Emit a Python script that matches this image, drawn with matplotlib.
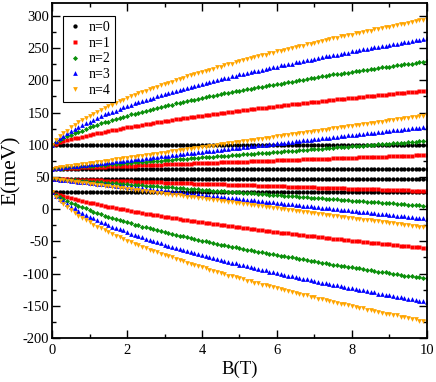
import matplotlib
matplotlib.use('Agg')
import matplotlib.pyplot as plt
import numpy as np
from matplotlib.ticker import MultipleLocator

plt.rcParams['font.family'] = ['Liberation Serif', 'DejaVu Serif']
plt.rcParams['axes.unicode_minus'] = False

# magnetic field grid (T), 0.1 T steps
B = np.linspace(0, 10, 101)

# n=0 levels stay flat (meV)
n0_levels = [100, 63, 47, 26]

# n=1
n1_top = [100.0, 101.8, 103.5, 105.2, 106.8, 108.3, 109.8, 111.2, 112.6, 113.9,
          115.2, 116.5, 117.7, 118.9, 120.1, 121.3, 122.4, 123.5, 124.6, 125.7,
          126.8, 127.8, 128.8, 129.8, 130.8, 131.8, 132.8, 133.7, 134.7, 135.6,
          136.5, 137.4, 138.3, 139.2, 140.0, 140.9, 141.7, 142.6, 143.4, 144.2,
          145.0, 145.8, 146.6, 147.4, 148.2, 149.0, 149.7, 150.5, 151.2, 152.0,
          152.7, 153.5, 154.2, 154.9, 155.6, 156.3, 157.0, 157.7, 158.4, 159.1,
          159.8, 160.5, 161.2, 161.8, 162.5, 163.2, 163.8, 164.5, 165.1, 165.8,
          166.4, 167.0, 167.7, 168.3, 168.9, 169.5, 170.2, 170.8, 171.4, 172.0,
          172.6, 173.2, 173.8, 174.4, 175.0, 175.6, 176.1, 176.7, 177.3, 177.9,
          178.4, 179.0, 179.6, 180.1, 180.7, 181.2, 181.8, 182.4, 182.9, 183.5,
          184.0]
n1_up = [63.0, 63.2, 63.4, 63.6, 63.8, 64.1, 64.3, 64.5, 64.7, 64.9,
         65.1, 65.3, 65.5, 65.7, 65.9, 66.2, 66.4, 66.6, 66.8, 67.0,
         67.2, 67.4, 67.6, 67.8, 68.0, 68.3, 68.5, 68.7, 68.9, 69.1,
         69.3, 69.5, 69.7, 69.9, 70.1, 70.4, 70.6, 70.8, 71.0, 71.2,
         71.4, 71.6, 71.8, 72.0, 72.2, 72.5, 72.7, 72.9, 73.1, 73.3,
         73.5, 73.7, 73.9, 74.1, 74.3, 74.6, 74.8, 75.0, 75.2, 75.4,
         75.6, 75.8, 76.0, 76.2, 76.4, 76.7, 76.9, 77.1, 77.3, 77.5,
         77.7, 77.9, 78.1, 78.3, 78.5, 78.8, 79.0, 79.2, 79.4, 79.6,
         79.8, 80.0, 80.2, 80.4, 80.6, 80.9, 81.1, 81.3, 81.5, 81.7,
         81.9, 82.1, 82.3, 82.5, 82.7, 83.0, 83.2, 83.4, 83.6, 83.8,
         84.0]
n1_dn = [47.0, 46.8, 46.6, 46.4, 46.2, 46.0, 45.9, 45.7, 45.5, 45.3,
         45.1, 44.9, 44.7, 44.5, 44.3, 44.2, 44.0, 43.8, 43.6, 43.4,
         43.2, 43.0, 42.8, 42.6, 42.4, 42.3, 42.1, 41.9, 41.7, 41.5,
         41.3, 41.1, 40.9, 40.7, 40.5, 40.4, 40.2, 40.0, 39.8, 39.6,
         39.4, 39.2, 39.0, 38.8, 38.6, 38.5, 38.3, 38.1, 37.9, 37.7,
         37.5, 37.3, 37.1, 36.9, 36.7, 36.6, 36.4, 36.2, 36.0, 35.8,
         35.6, 35.4, 35.2, 35.0, 34.8, 34.7, 34.5, 34.3, 34.1, 33.9,
         33.7, 33.5, 33.3, 33.1, 32.9, 32.8, 32.6, 32.4, 32.2, 32.0,
         31.8, 31.6, 31.4, 31.2, 31.0, 30.9, 30.7, 30.5, 30.3, 30.1,
         29.9, 29.7, 29.5, 29.3, 29.1, 29.0, 28.8, 28.6, 28.4, 28.2,
         28.0]
n1_bot = [26.0, 24.1, 22.4, 20.7, 19.0, 17.5, 16.0, 14.5, 13.1, 11.7,
          10.3, 9.0, 7.7, 6.5, 5.3, 4.1, 2.9, 1.8, 0.6, -0.5,
          -1.6, -2.6, -3.7, -4.7, -5.8, -6.8, -7.7, -8.7, -9.7, -10.6,
          -11.6, -12.5, -13.4, -14.3, -15.2, -16.1, -17.0, -17.8, -18.7, -19.5,
          -20.4, -21.2, -22.0, -22.8, -23.6, -24.4, -25.2, -26.0, -26.8, -27.6,
          -28.3, -29.1, -29.8, -30.6, -31.3, -32.0, -32.8, -33.5, -34.2, -34.9,
          -35.6, -36.3, -37.0, -37.7, -38.4, -39.1, -39.7, -40.4, -41.1, -41.7,
          -42.4, -43.0, -43.7, -44.3, -45.0, -45.6, -46.3, -46.9, -47.5, -48.1,
          -48.8, -49.4, -50.0, -50.6, -51.2, -51.8, -52.4, -53.0, -53.6, -54.2,
          -54.8, -55.4, -56.0, -56.5, -57.1, -57.7, -58.3, -58.8, -59.4, -60.0,
          -60.5]

# n=2
n2_top = [100, 104, 107, 110, 113, 115, 118, 120, 122, 125,
          127, 129, 131, 133, 135, 136, 138, 140, 142, 143,
          145, 147, 148, 150, 151, 153, 154, 156, 157, 158,
          160, 161, 162, 164, 165, 166, 168, 169, 170, 171,
          173, 174, 175, 176, 177, 178, 180, 181, 182, 183,
          184, 185, 186, 187, 188, 189, 190, 191, 192, 193,
          194, 195, 196, 197, 198, 199, 200, 201, 202, 203,
          204, 205, 206, 207, 208, 209, 209, 210, 211, 212,
          213, 214, 215, 216, 216, 217, 218, 219, 220, 221,
          221, 222, 223, 224, 225, 226, 226, 227, 228, 229,
          230]
n2_up = [63.0, 63.4, 63.9, 64.3, 64.7, 65.2, 65.6, 66.0, 66.4, 66.9,
         67.3, 67.7, 68.2, 68.6, 69.0, 69.5, 69.9, 70.3, 70.7, 71.2,
         71.6, 72.0, 72.5, 72.9, 73.3, 73.8, 74.2, 74.6, 75.0, 75.5,
         75.9, 76.3, 76.8, 77.2, 77.6, 78.1, 78.5, 78.9, 79.3, 79.8,
         80.2, 80.6, 81.1, 81.5, 81.9, 82.4, 82.8, 83.2, 83.6, 84.1,
         84.5, 84.9, 85.4, 85.8, 86.2, 86.7, 87.1, 87.5, 87.9, 88.4,
         88.8, 89.2, 89.7, 90.1, 90.5, 91.0, 91.4, 91.8, 92.2, 92.7,
         93.1, 93.5, 94.0, 94.4, 94.8, 95.3, 95.7, 96.1, 96.5, 97.0,
         97.4, 97.8, 98.3, 98.7, 99.1, 99.6, 100.0, 100.4, 100.8, 101.3,
         101.7, 102.1, 102.6, 103.0, 103.4, 103.9, 104.3, 104.7, 105.1, 105.6,
         106.0]
n2_dn = [47.0, 46.6, 46.2, 45.7, 45.3, 44.9, 44.5, 44.1, 43.6, 43.2,
         42.8, 42.4, 42.0, 41.5, 41.1, 40.7, 40.3, 39.9, 39.4, 39.0,
         38.6, 38.2, 37.8, 37.3, 36.9, 36.5, 36.1, 35.7, 35.2, 34.8,
         34.4, 34.0, 33.6, 33.1, 32.7, 32.3, 31.9, 31.5, 31.0, 30.6,
         30.2, 29.8, 29.4, 28.9, 28.5, 28.1, 27.7, 27.3, 26.8, 26.4,
         26.0, 25.6, 25.2, 24.7, 24.3, 23.9, 23.5, 23.1, 22.6, 22.2,
         21.8, 21.4, 21.0, 20.5, 20.1, 19.7, 19.3, 18.9, 18.4, 18.0,
         17.6, 17.2, 16.8, 16.3, 15.9, 15.5, 15.1, 14.7, 14.2, 13.8,
         13.4, 13.0, 12.6, 12.1, 11.7, 11.3, 10.9, 10.5, 10.0, 9.6,
         9.2, 8.8, 8.4, 7.9, 7.5, 7.1, 6.7, 6.3, 5.8, 5.4,
         5.0]
n2_bot = [26, 22, 19, 16, 13, 10, 8, 5, 3, 1,
          -2, -4, -6, -8, -10, -12, -13, -15, -17, -19,
          -20, -22, -24, -25, -27, -28, -30, -31, -33, -34,
          -36, -37, -38, -40, -41, -42, -44, -45, -46, -48,
          -49, -50, -51, -52, -54, -55, -56, -57, -58, -59,
          -61, -62, -63, -64, -65, -66, -67, -68, -69, -70,
          -71, -72, -73, -74, -75, -76, -77, -78, -79, -80,
          -81, -82, -83, -84, -85, -86, -87, -88, -89, -90,
          -90, -91, -92, -93, -94, -95, -96, -97, -97, -98,
          -99, -100, -101, -102, -103, -103, -104, -105, -106, -107,
          -107]

# n=3
n3_top = [100, 105, 110, 114, 118, 121, 125, 128, 131, 134,
          136, 139, 142, 144, 147, 149, 151, 153, 156, 158,
          160, 162, 164, 166, 168, 170, 171, 173, 175, 177,
          178, 180, 182, 183, 185, 187, 188, 190, 191, 193,
          194, 196, 197, 199, 200, 202, 203, 204, 206, 207,
          209, 210, 211, 213, 214, 215, 216, 218, 219, 220,
          221, 223, 224, 225, 226, 228, 229, 230, 231, 232,
          233, 235, 236, 237, 238, 239, 240, 241, 242, 243,
          245, 246, 247, 248, 249, 250, 251, 252, 253, 254,
          255, 256, 257, 258, 259, 260, 261, 262, 263, 264,
          265]
n3_up = [63.0, 63.7, 64.3, 65.0, 65.6, 66.3, 66.9, 67.6, 68.2, 68.9,
         69.5, 70.2, 70.8, 71.5, 72.1, 72.8, 73.4, 74.1, 74.7, 75.4,
         76.0, 76.7, 77.3, 78.0, 78.6, 79.3, 79.9, 80.6, 81.2, 81.9,
         82.5, 83.2, 83.8, 84.5, 85.1, 85.8, 86.4, 87.1, 87.7, 88.4,
         89.0, 89.7, 90.3, 91.0, 91.6, 92.3, 92.9, 93.6, 94.2, 94.9,
         95.5, 96.2, 96.8, 97.5, 98.1, 98.8, 99.4, 100.1, 100.7, 101.4,
         102.0, 102.7, 103.3, 104.0, 104.6, 105.3, 105.9, 106.6, 107.2, 107.9,
         108.5, 109.2, 109.8, 110.5, 111.1, 111.8, 112.4, 113.1, 113.7, 114.4,
         115.0, 115.7, 116.3, 117.0, 117.6, 118.3, 118.9, 119.6, 120.2, 120.9,
         121.5, 122.2, 122.8, 123.5, 124.1, 124.8, 125.4, 126.1, 126.7, 127.4,
         128.0]
n3_dn = [47.0, 46.4, 45.8, 45.1, 44.5, 43.9, 43.3, 42.7, 42.0, 41.4,
         40.8, 40.2, 39.6, 38.9, 38.3, 37.7, 37.1, 36.5, 35.8, 35.2,
         34.6, 34.0, 33.4, 32.7, 32.1, 31.5, 30.9, 30.3, 29.6, 29.0,
         28.4, 27.8, 27.2, 26.5, 25.9, 25.3, 24.7, 24.1, 23.4, 22.8,
         22.2, 21.6, 21.0, 20.3, 19.7, 19.1, 18.5, 17.9, 17.2, 16.6,
         16.0, 15.4, 14.8, 14.1, 13.5, 12.9, 12.3, 11.7, 11.0, 10.4,
         9.8, 9.2, 8.6, 7.9, 7.3, 6.7, 6.1, 5.5, 4.8, 4.2,
         3.6, 3.0, 2.4, 1.7, 1.1, 0.5, -0.1, -0.7, -1.4, -2.0,
         -2.6, -3.2, -3.8, -4.5, -5.1, -5.7, -6.3, -6.9, -7.6, -8.2,
         -8.8, -9.4, -10.0, -10.7, -11.3, -11.9, -12.5, -13.1, -13.8, -14.4,
         -15.0]
n3_bot = [26, 21, 16, 12, 8, 4, 1, -3, -6, -9,
          -12, -14, -17, -20, -22, -24, -27, -29, -31, -33,
          -36, -38, -40, -42, -44, -46, -48, -49, -51, -53,
          -55, -57, -58, -60, -62, -63, -65, -67, -68, -70,
          -71, -73, -74, -76, -77, -79, -80, -82, -83, -84,
          -86, -87, -89, -90, -91, -93, -94, -95, -97, -98,
          -99, -100, -102, -103, -104, -105, -107, -108, -109, -110,
          -111, -113, -114, -115, -116, -117, -118, -120, -121, -122,
          -123, -124, -125, -126, -127, -128, -129, -131, -132, -133,
          -134, -135, -136, -137, -138, -139, -140, -141, -142, -143,
          -144]

# n=4
n4_top = [100, 107, 113, 118, 122, 127, 131, 135, 138, 142,
          145, 148, 151, 154, 157, 160, 162, 165, 168, 170,
          173, 175, 177, 180, 182, 184, 186, 188, 190, 192,
          194, 196, 198, 200, 202, 204, 206, 208, 209, 211,
          213, 215, 216, 218, 220, 221, 223, 225, 226, 228,
          230, 231, 233, 234, 236, 237, 239, 240, 242, 243,
          245, 246, 247, 249, 250, 252, 253, 254, 256, 257,
          258, 260, 261, 262, 264, 265, 266, 268, 269, 270,
          271, 273, 274, 275, 276, 277, 279, 280, 281, 282,
          283, 285, 286, 287, 288, 289, 290, 292, 293, 294,
          295]
n4_up = [63.0, 63.8, 64.7, 65.5, 66.3, 67.2, 68.0, 68.8, 69.6, 70.5,
         71.3, 72.1, 73.0, 73.8, 74.6, 75.5, 76.3, 77.1, 77.9, 78.8,
         79.6, 80.4, 81.3, 82.1, 82.9, 83.8, 84.6, 85.4, 86.2, 87.1,
         87.9, 88.7, 89.6, 90.4, 91.2, 92.1, 92.9, 93.7, 94.5, 95.4,
         96.2, 97.0, 97.9, 98.7, 99.5, 100.4, 101.2, 102.0, 102.8, 103.7,
         104.5, 105.3, 106.2, 107.0, 107.8, 108.7, 109.5, 110.3, 111.1, 112.0,
         112.8, 113.6, 114.5, 115.3, 116.1, 117.0, 117.8, 118.6, 119.4, 120.3,
         121.1, 121.9, 122.8, 123.6, 124.4, 125.3, 126.1, 126.9, 127.7, 128.6,
         129.4, 130.2, 131.1, 131.9, 132.7, 133.6, 134.4, 135.2, 136.0, 136.9,
         137.7, 138.5, 139.4, 140.2, 141.0, 141.9, 142.7, 143.5, 144.3, 145.2,
         146.0]
n4_dn = [47.0, 46.2, 45.5, 44.7, 44.0, 43.2, 42.4, 41.7, 40.9, 40.2,
         39.4, 38.6, 37.9, 37.1, 36.4, 35.6, 34.8, 34.1, 33.3, 32.6,
         31.8, 31.0, 30.3, 29.5, 28.8, 28.0, 27.2, 26.5, 25.7, 25.0,
         24.2, 23.4, 22.7, 21.9, 21.2, 20.4, 19.6, 18.9, 18.1, 17.4,
         16.6, 15.8, 15.1, 14.3, 13.6, 12.8, 12.0, 11.3, 10.5, 9.8,
         9.0, 8.2, 7.5, 6.7, 6.0, 5.2, 4.4, 3.7, 2.9, 2.2,
         1.4, 0.6, -0.1, -0.9, -1.6, -2.4, -3.2, -3.9, -4.7, -5.4,
         -6.2, -7.0, -7.7, -8.5, -9.2, -10.0, -10.8, -11.5, -12.3, -13.0,
         -13.8, -14.6, -15.3, -16.1, -16.8, -17.6, -18.4, -19.1, -19.9, -20.6,
         -21.4, -22.2, -22.9, -23.7, -24.4, -25.2, -26.0, -26.7, -27.5, -28.2,
         -29.0]
n4_bot = [26, 19, 13, 8, 3, -2, -6, -10, -13, -17,
          -20, -24, -27, -30, -33, -36, -38, -41, -44, -46,
          -49, -51, -54, -56, -58, -61, -63, -65, -67, -69,
          -71, -73, -75, -77, -79, -81, -83, -85, -87, -89,
          -90, -92, -94, -96, -97, -99, -101, -103, -104, -106,
          -107, -109, -111, -112, -114, -115, -117, -118, -120, -121,
          -123, -124, -126, -127, -129, -130, -132, -133, -134, -136,
          -137, -139, -140, -141, -143, -144, -145, -147, -148, -149,
          -150, -152, -153, -154, -156, -157, -158, -159, -161, -162,
          -163, -164, -165, -167, -168, -169, -170, -171, -173, -174,
          -175]

labels = ['n=0', 'n=1', 'n=2', 'n=3', 'n=4']
colors = ['black', '#ff0000', '#0a8f0a', '#0000ff', '#ffa500']
markers = ['o', 's', 'D', '^', 'v']
sizes = [3.1, 2.7, 2.6, 3.4, 3.4]

branches = [
    [np.full(len(B), lev) for lev in n0_levels],
    [n1_top, n1_up, n1_dn, n1_bot],
    [n2_top, n2_up, n2_dn, n2_bot],
    [n3_top, n3_up, n3_dn, n3_bot],
    [n4_top, n4_up, n4_dn, n4_bot],
]

fig = plt.figure(figsize=(4.36, 3.82), dpi=100)
ax = fig.add_axes([0.1193, 0.1152, 0.860, 0.877])

for i in range(5):
    for j, E in enumerate(branches[i]):
        ax.plot(B, E, linestyle='none', marker=markers[i], ms=sizes[i],
                color=colors[i], mec='none',
                label=labels[i] if j == 0 else None)

ax.set_xlim(0, 10)
ax.set_ylim(-200, 320)
ax.xaxis.set_major_locator(MultipleLocator(2))
ax.xaxis.set_minor_locator(MultipleLocator(1))
ax.yaxis.set_minor_locator(MultipleLocator(25))
ax.set_yticks(np.arange(-200, 301, 50))

ax.tick_params(which='both', direction='in', top=True, right=True, width=1.0,
               labelsize=10.5)
ax.tick_params(which='major', length=5.5)
ax.tick_params(which='minor', length=3)
ax.tick_params(axis='y', pad=2)
ax.tick_params(axis='x', pad=4)
for sp in ax.spines.values():
    sp.set_linewidth(1.3)

ax.set_xlabel('B(T)', fontsize=13.5, labelpad=3)
ax.set_ylabel('E(meV)', fontsize=15.5, labelpad=1)

leg = ax.legend(loc='upper left', bbox_to_anchor=(0.029, 0.961), numpoints=1,
                fontsize=10, frameon=True, fancybox=False, framealpha=1,
                edgecolor='black', handlelength=1.0, handletextpad=0.5,
                borderpad=0.35, labelspacing=0.2, borderaxespad=0)
leg.get_frame().set_linewidth(0.8)

fig.savefig('out.png', dpi=100)
